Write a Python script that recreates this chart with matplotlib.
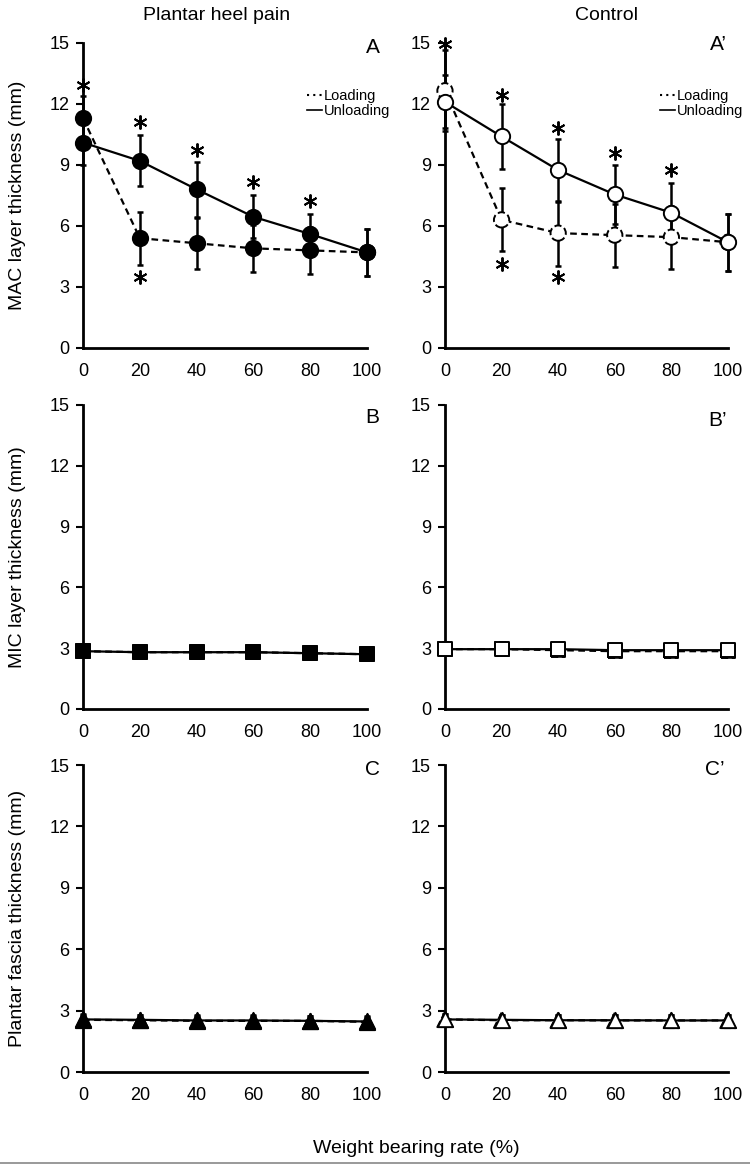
import matplotlib.pyplot as plt
from matplotlib.lines import Line2D

plt.rcParams['font.family'] = ['Liberation Sans', 'DejaVu Sans']

weight = [0, 20, 40, 60, 80, 100]

# MAC layer thickness (mm)
php_mac_load = [11.3, 5.4, 5.15, 4.9, 4.8, 4.7]
php_mac_load_sd = [1.1, 1.3, 1.25, 1.15, 1.15, 1.15]
php_mac_unload = [10.1, 9.2, 7.8, 6.45, 5.6, 4.7]
php_mac_unload_sd = [1.1, 1.25, 1.35, 1.05, 1.0, 1.15]
ctl_mac_load = [12.65, 6.3, 5.65, 5.55, 5.45, 5.2]
ctl_mac_load_sd = [2.0, 1.55, 1.6, 1.55, 1.55, 1.4]
ctl_mac_unload = [12.1, 10.4, 8.75, 7.55, 6.65, 5.2]
ctl_mac_unload_sd = [1.3, 1.6, 1.55, 1.45, 1.45, 1.4]

# MIC layer thickness (mm)
php_mic_load = [2.85, 2.8, 2.8, 2.8, 2.75, 2.7]
php_mic_unload = [2.85, 2.8, 2.8, 2.8, 2.75, 2.7]
php_mic_sd = [0.3, 0.3, 0.3, 0.3, 0.3, 0.3]
ctl_mic_load = [2.95, 2.95, 2.9, 2.85, 2.85, 2.85]
ctl_mic_unload = [2.95, 2.95, 2.95, 2.9, 2.9, 2.9]
ctl_mic_sd = [0.3, 0.3, 0.3, 0.3, 0.3, 0.3]

# Plantar fascia thickness (mm)
php_pf_load = [2.55, 2.53, 2.5, 2.5, 2.5, 2.45]
php_pf_unload = [2.57, 2.55, 2.52, 2.52, 2.5, 2.47]
php_pf_sd = [0.25, 0.25, 0.25, 0.25, 0.25, 0.25]
ctl_pf_load = [2.57, 2.53, 2.53, 2.52, 2.52, 2.52]
ctl_pf_unload = [2.57, 2.55, 2.53, 2.53, 2.52, 2.52]
ctl_pf_sd = [0.25, 0.25, 0.25, 0.25, 0.25, 0.25]

# significance asterisks (x, y)
stars_php_x = [0, 20, 40, 60, 80, 20]
stars_php_y = [12.95, 11.1, 9.75, 8.15, 7.25, 3.5]
stars_ctl_x = [0, 20, 40, 60, 80, 20, 40]
stars_ctl_y = [14.95, 12.45, 10.8, 9.6, 8.75, 4.15, 3.5]

fig = plt.figure(figsize=(7.5, 11.67), dpi=100)

rows_y = [(0.7018, 0.2614), (0.3925, 0.2605), (0.0814, 0.2630)]
cols_x = [(0.1107, 0.3787), (0.5933, 0.3773)]

panels = [
    [(php_mac_load, php_mac_load_sd, php_mac_unload, php_mac_unload_sd, 'o', 'black'),
     (ctl_mac_load, ctl_mac_load_sd, ctl_mac_unload, ctl_mac_unload_sd, 'o', 'white')],
    [(php_mic_load, php_mic_sd, php_mic_unload, php_mic_sd, 's', 'black'),
     (ctl_mic_load, ctl_mic_sd, ctl_mic_unload, ctl_mic_sd, 's', 'white')],
    [(php_pf_load, php_pf_sd, php_pf_unload, php_pf_sd, '^', 'black'),
     (ctl_pf_load, ctl_pf_sd, ctl_pf_unload, ctl_pf_sd, '^', 'white')],
]
ylabels = ['MAC layer thickness (mm)', 'MIC layer thickness (mm)',
           'Plantar fascia thickness (mm)']
letters = [[('A', 1.02, 0.985), ('A\u2019', 0.965, 0.995)],
           [('B', 1.02, 0.96), ('B\u2019', 0.965, 0.95)],
           [('C', 1.02, 0.984), ('C\u2019', 0.955, 0.984)]]
msizes = {'o': 11, 's': 10, '^': 11}

axes = []
for r in range(3):
    for c in range(2):
        load, load_sd, unload, unload_sd, mk, fc = panels[r][c]
        ax = fig.add_axes([cols_x[c][0], rows_y[r][0], cols_x[c][1], rows_y[r][1]])
        axes.append(ax)
        ms = msizes[mk]

        ax.errorbar(weight, load, yerr=load_sd, fmt='none', ecolor='black',
                    elinewidth=1.8, capsize=2, capthick=1.8, clip_on=False, zorder=2)
        ax.errorbar(weight, unload, yerr=unload_sd, fmt='none', ecolor='black',
                    elinewidth=1.8, capsize=2, capthick=1.8, clip_on=False, zorder=2)
        ax.plot(weight, load, color='black', lw=1.6, ls=(0, (3, 2)), zorder=3,
                clip_on=False)
        ax.plot(weight, unload, color='black', lw=1.6, ls='-', zorder=4,
                clip_on=False)
        if fc == 'white':
            ax.scatter(weight, load, s=ms ** 2, marker=mk, facecolor='white',
                       edgecolor='black', linewidths=1.4, linestyle='--',
                       zorder=5, clip_on=False)
        else:
            ax.scatter(weight, load, s=ms ** 2, marker=mk, facecolor='black',
                       edgecolor='black', linewidths=1.4, zorder=5, clip_on=False)
        ax.scatter(weight, unload, s=ms ** 2, marker=mk, facecolor=fc,
                   edgecolor='black', linewidths=1.4, zorder=6, clip_on=False)

        ax.set_xlim(0, 100)
        ax.set_ylim(0, 15)
        ax.set_xticks(weight)
        ax.set_yticks([0, 3, 6, 9, 12, 15])
        for s in ['top', 'right']:
            ax.spines[s].set_visible(False)
        for s in ['left', 'bottom']:
            ax.spines[s].set_linewidth(2)
        ax.tick_params(axis='x', length=0, pad=11, labelsize=13)
        ax.tick_params(axis='y', length=5, width=1.5, pad=5, labelsize=13,
                       direction='out')
        ax.patch.set_visible(False)

        txt, lx, ly = letters[r][c]
        ax.text(lx, ly, txt, transform=ax.transAxes, ha='center', va='center',
                fontsize=15)
        if c == 0:
            ax.set_ylabel(ylabels[r], fontsize=14)
            ax.yaxis.set_label_coords(-0.2, 0.5)

# asterisks on the MAC panels
axes[0].plot(stars_php_x, stars_php_y, ls='none', marker=(6, 2, 0),
             markersize=10, mew=1.4, color='black', clip_on=False, zorder=7)
axes[1].plot(stars_ctl_x, stars_ctl_y, ls='none', marker=(6, 2, 0),
             markersize=10, mew=1.4, color='black', clip_on=False, zorder=7)

# legends
leg_handles = [Line2D([], [], color='black', lw=1.5, ls=(0, (1, 2))),
               Line2D([], [], color='black', lw=1.2, ls='-')]
for ax, lx in [(axes[0], 0.79), (axes[1], 0.76)]:
    ax.legend(leg_handles, ['Loading', 'Unloading'], loc='upper left',
              bbox_to_anchor=(lx, 0.85), frameon=False, fontsize=10.5,
              handlelength=1.0, handletextpad=0.15, labelspacing=0.12,
              borderaxespad=0, borderpad=0)

fig.text(0.289, 0.987, 'Plantar heel pain', ha='center', va='center', fontsize=14)
fig.text(0.809, 0.987, 'Control', ha='center', va='center', fontsize=14)
fig.text(0.555, 0.016, 'Weight bearing rate (%)', ha='center', va='center',
         fontsize=14)
fig.add_artist(Line2D([0, 1], [0.0034, 0.0034], color='#888888', lw=1.2))

plt.savefig('out.png', dpi=100)
